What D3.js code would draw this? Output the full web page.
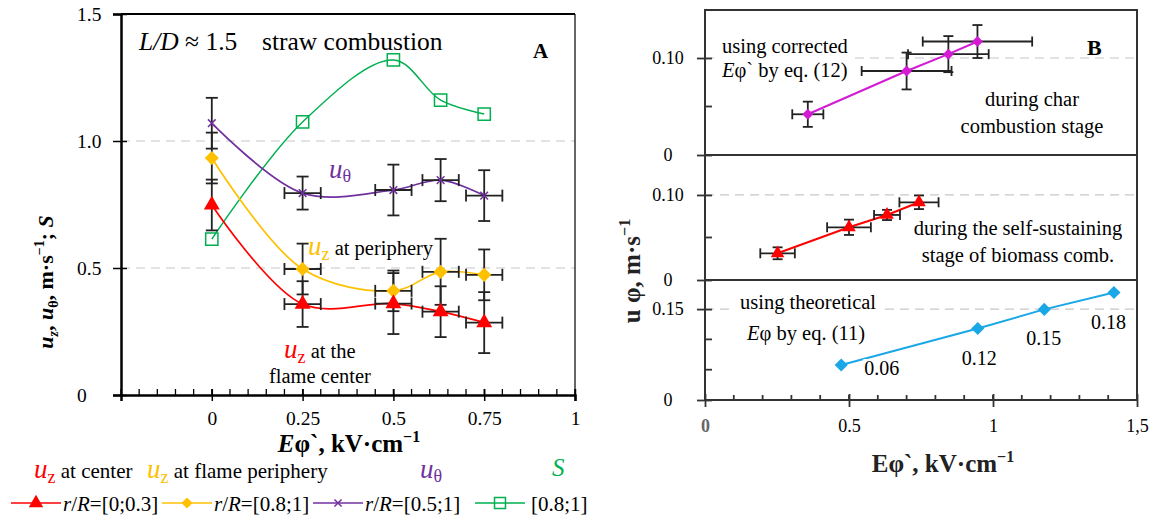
<!DOCTYPE html>
<html>
<head>
<meta charset="utf-8">
<script src="https://cdn.jsdelivr.net/npm/d3@7"></script>
<style>
  body { margin: 0; background: #fff; }
  svg text { font-family: "Liberation Serif", "Times New Roman", "DejaVu Serif", serif !important; }
</style>
</head>
<body>
<svg id="chart" width="1153" height="519"></svg>
<script>
// ---- panel A data (E' in kV/cm) ----
const fieldA = [0, 0.25, 0.5, 0.63, 0.75];
const fieldErrA = [0, 0.05, 0.05, 0.05, 0.05];
const uzCenter = [0.748, 0.358, 0.36, 0.328, 0.285];
const uzCenterErr = [0.1, 0.09, 0.12, 0.1, 0.12];
const uzPeriph = [0.933, 0.496, 0.41, 0.485, 0.473];
const uzPeriphErr = [0.1, 0.1, 0.08, 0.13, 0.1];
const uTheta = [1.07, 0.795, 0.807, 0.846, 0.785];
const uThetaErr = [0.1, 0.065, 0.1, 0.083, 0.1];
const swirlS = [0.614, 1.075, 1.319, 1.161, 1.106];
const ticksXA = [0, 0.25, 0.5, 0.75, 1];
const ticksYA = [0, 0.5, 1.0, 1.5];

// ---- panel B data ----
const charE = [0.357, 0.70, 0.845, 0.946];
const charU = [0.042, 0.0866, 0.104, 0.117];
const charErrE = [0.054, 0.156, 0.14, 0.19];
const charErrU = [0.013, 0.019, 0.0186, 0.017];
const selfE = [0.252, 0.50, 0.632, 0.743];
const selfU = [0.0314, 0.062, 0.0765, 0.0914];
const selfErrE = [0.06, 0.076, 0.045, 0.068];
const selfErrU = [0.007, 0.009, 0.006, 0.008];
const theoE = [0.473, 0.947, 1.178, 1.42];
const theoU = [0.0577, 0.118, 0.1495, 0.1775];
const theoLabels = ['0.06', '0.12', '0.15', '0.18'];
const ticksXB = [0, 0.5, 1, 1.5];
const tickLabelsXB = ['0', '0.5', '1', '1,5'];

const RED = '#ff0000', GOLD = '#ffc000', PURPLE = '#7030a0', GREEN = '#00b050';
const MAGENTA = '#d21bd2', CYAN = '#1aa7e8', ERR = '#222';

const svg = d3.select('#chart');

// ================= PANEL A =================
const xA = d3.scaleLinear().domain([-0.25, 1]).range([121, 575]);
const yA = d3.scaleLinear().domain([0, 1.5]).range([395, 14]);
const gA = svg.append('g');

// grid
gA.selectAll('line.grid').data([0.5, 1.0]).enter().append('line')
  .attr('x1', xA(-0.25)).attr('x2', xA(1))
  .attr('y1', d => yA(d)).attr('y2', d => yA(d))
  .attr('stroke', '#c8c8c8').attr('stroke-width', 1.2).attr('stroke-dasharray', '9,6');

// frame
gA.append('line').attr('x1', xA(1)).attr('x2', xA(1)).attr('y1', yA(1.5)).attr('y2', yA(0))
  .attr('stroke', '#000').attr('stroke-width', 1.2);
gA.append('line').attr('x1', xA(-0.25)).attr('x2', xA(1)).attr('y1', yA(1.5)).attr('y2', yA(1.5))
  .attr('stroke', '#000').attr('stroke-width', 2);

// x axis
const axA = gA.append('g').attr('transform', `translate(0,${yA(0)})`)
  .call(d3.axisBottom(xA).tickValues(ticksXA).tickSize(6).tickPadding(10).tickFormat(d3.format('~g')));
axA.select('.domain').attr('stroke-width', 2.5);
axA.selectAll('.tick line').attr('y1', -6).attr('stroke-width', 1.5);
axA.selectAll('.tick text').attr('font-size', 19.5).attr('fill', '#000');
gA.selectAll('line.minx').data(d3.range(-0.25, 1.001, 0.05)).enter().append('line')
  .attr('x1', d => xA(d)).attr('x2', d => xA(d)).attr('y1', yA(0)).attr('y2', yA(0) - 6)
  .attr('stroke', '#000').attr('stroke-width', 1.3);

// y axis
const ayA = gA.append('g').attr('transform', `translate(${xA(-0.25)},0)`)
  .call(d3.axisLeft(yA).tickValues(ticksYA).tickSize(8).tickFormat(d => d === 0 ? '0' : d3.format('.1f')(d)));
ayA.select('.domain').attr('stroke-width', 2.5);
ayA.selectAll('.tick line').attr('x2', -8).attr('x1', 6).attr('stroke-width', 1.5);
ayA.selectAll('.tick text').attr('font-size', 19.5).attr('fill', '#000')
  .attr('text-anchor', 'start').attr('x', 77 - 121);

const smooth = d3.curveCatmullRom.alpha(0.5);
function series(g, xs, ys, xS, yS, color, width) {
  const pts = xs.map((x, i) => [x, ys[i]]);
  g.append('path').datum(pts)
    .attr('d', d3.line().x(d => xS(d[0])).y(d => yS(d[1])).curve(smooth))
    .attr('fill', 'none').attr('stroke', color).attr('stroke-width', width);
}
function straight(g, xs, ys, xS, yS, color, width) {
  const pts = xs.map((x, i) => [x, ys[i]]);
  g.append('path').datum(pts)
    .attr('d', d3.line().x(d => xS(d[0])).y(d => yS(d[1])))
    .attr('fill', 'none').attr('stroke', color).attr('stroke-width', width);
}
function errorBars(g, xs, ys, ex, ey, xS, yS, cap, sw) {
  xs.forEach((x, i) => {
    const cx = xS(x), cy = yS(ys[i]);
    if (ey[i] > 0) {
      const y1 = yS(ys[i] + ey[i]), y2 = yS(ys[i] - ey[i]);
      g.append('line').attr('x1', cx).attr('x2', cx).attr('y1', y1).attr('y2', y2);
      [y1, y2].forEach(y => g.append('line').attr('x1', cx - cap).attr('x2', cx + cap).attr('y1', y).attr('y2', y));
    }
    if (ex[i] > 0) {
      const x1 = xS(x - ex[i]), x2 = xS(x + ex[i]);
      g.append('line').attr('x1', x1).attr('x2', x2).attr('y1', cy).attr('y2', cy);
      [x1, x2].forEach(xx => g.append('line').attr('x1', xx).attr('x2', xx).attr('y1', cy - cap).attr('y2', cy + cap));
    }
  });
  g.attr('stroke', ERR).attr('stroke-width', sw);
}
function markers(g, xs, ys, xS, yS, type, size, fill, stroke, rot, sw) {
  g.selectAll('path.m').data(xs.map((x, i) => [x, ys[i]])).enter().append('path')
    .attr('d', d3.symbol().type(type).size(size))
    .attr('transform', d => `translate(${xS(d[0])},${yS(d[1])}) rotate(${rot})`)
    .attr('fill', fill).attr('stroke', stroke).attr('stroke-width', sw || 0);
}

series(gA, fieldA, swirlS, xA, yA, GREEN, 1.5);
series(gA, fieldA, uTheta, xA, yA, PURPLE, 1.7);
series(gA, fieldA, uzPeriph, xA, yA, GOLD, 1.7);
series(gA, fieldA, uzCenter, xA, yA, RED, 1.7);

errorBars(gA.append('g'), fieldA, uTheta, fieldErrA, uThetaErr, xA, yA, 6, 1.8);
errorBars(gA.append('g'), fieldA, uzPeriph, fieldErrA, uzPeriphErr, xA, yA, 6, 1.8);
errorBars(gA.append('g'), fieldA, uzCenter, fieldErrA, uzCenterErr, xA, yA, 6, 1.8);

markers(gA.append('g'), fieldA, swirlS, xA, yA, d3.symbolSquare, 150, 'none', GREEN, 0, 1.5);
markers(gA.append('g'), fieldA, uTheta, xA, yA, d3.symbolX, 40, 'none', PURPLE, 0, 1.5);
markers(gA.append('g'), fieldA, uzPeriph, xA, yA, d3.symbolSquare, 100, GOLD, 'none', 45);
markers(gA.append('g'), fieldA, uzCenter, xA, yA, d3.symbolTriangle, 110, RED, 'none', 0);

// annotations A
function rich(g, x, y, parts, anchor) {
  const t = g.append('text').attr('x', x).attr('y', y).attr('text-anchor', anchor || 'start');
  parts.forEach(p => {
    const s = t.append('tspan').text(p.t).attr('font-size', p.fs).attr('fill', p.c || '#000');
    if (p.i) s.attr('font-style', 'italic');
    if (p.b) s.attr('font-weight', 'bold');
    if (p.dy) s.attr('dy', p.dy);
  });
  return t;
}
rich(gA, 139, 50, [{t: 'L/D', fs: 25.5, i: 1}, {t: ' \u2248 1.5', fs: 25.5}]);
rich(gA, 262, 50, [{t: 'straw combustion', fs: 25.5}]);
rich(gA, 533, 58, [{t: 'A', fs: 21, b: 1}]);
svg.append('rect').attr('x', 300).attr('y', 76).attr('width', 22).attr('height', 26).attr('fill', '#fff');
rich(gA, 303, 97, [{t: 'S', fs: 27, i: 1, c: GREEN}]);
rich(gA, 329, 178, [{t: 'u', fs: 27, i: 1, c: PURPLE}, {t: '\u03b8', fs: 18, c: PURPLE, dy: 4}]);
rich(gA, 308, 255, [{t: 'u', fs: 27, i: 1, c: GOLD}, {t: 'z', fs: 18, c: GOLD, dy: 5}, {t: ' at periphery', fs: 20.5, dy: -5}]);
rich(gA, 284, 358, [{t: 'u', fs: 27, i: 1, c: RED}, {t: 'z', fs: 18, c: RED, dy: 5}, {t: ' at the', fs: 20.5, dy: -5}]);
rich(gA, 269, 383, [{t: 'flame center', fs: 20.5}]);

// axis titles A
rich(svg, 0, 0, [
  {t: 'u', fs: 22, i: 1, b: 1}, {t: 'z', fs: 14, i: 1, b: 1, dy: 5}, {t: ', ', fs: 22, b: 1, dy: -5},
  {t: 'u', fs: 22, i: 1, b: 1}, {t: '\u03b8', fs: 14, b: 1, dy: 5}, {t: ', m\u00b7s', fs: 22, b: 1, dy: -5},
  {t: '\u22121', fs: 14, b: 1, dy: -9}, {t: '; ', fs: 22, b: 1, dy: 9}, {t: 'S', fs: 22, i: 1, b: 1}
], 'middle').attr('transform', 'translate(53,282) rotate(-90)');
rich(svg, 349, 452, [{t: 'E', fs: 25, i: 1, b: 1}, {t: '\u03c6`, kV\u00b7cm', fs: 25, b: 1},
  {t: '\u22121', fs: 16, b: 1, dy: -10}], 'middle');

// legend
const leg = svg.append('g');
rich(leg, 34, 478, [{t: 'u', fs: 27, i: 1, c: RED}, {t: 'z', fs: 18, c: RED, dy: 5}, {t: ' at center', fs: 21, dy: -5}]);
rich(leg, 147, 478, [{t: 'u', fs: 27, i: 1, c: GOLD}, {t: 'z', fs: 18, c: GOLD, dy: 5}, {t: ' at flame periphery', fs: 21, dy: -5}]);
rich(leg, 420, 478, [{t: 'u', fs: 27, i: 1, c: PURPLE}, {t: '\u03b8', fs: 18, c: PURPLE, dy: 4}]);
rich(leg, 552, 476, [{t: 'S', fs: 25, i: 1, c: GREEN}]);
const legItems = [
  {x: 11, c: RED, type: d3.symbolTriangle, size: 90, fill: RED, rot: 0, label: '[0;0.3]', r: true},
  {x: 162, c: GOLD, type: d3.symbolSquare, size: 60, fill: GOLD, rot: 45, label: '[0.8;1]', r: true},
  {x: 313, c: PURPLE, type: d3.symbolX, size: 35, fill: 'none', rot: 0, label: '[0.5;1]', r: true},
  {x: 475, c: GREEN, type: d3.symbolSquare, size: 120, fill: 'none', rot: 0, label: '[0.8;1]', r: false}
];
legItems.forEach(it => {
  const ly = 503;
  leg.append('line').attr('x1', it.x).attr('x2', it.x + 50).attr('y1', ly).attr('y2', ly)
    .attr('stroke', it.c).attr('stroke-width', 1.7);
  leg.append('path').attr('d', d3.symbol().type(it.type).size(it.size)())
    .attr('transform', `translate(${it.x + 25},${ly}) rotate(${it.rot})`)
    .attr('fill', it.fill).attr('stroke', it.fill === 'none' ? it.c : 'none').attr('stroke-width', 1.5);
  const parts = it.r ? [{t: 'r', fs: 21, i: 1}, {t: '/', fs: 21}, {t: 'R', fs: 21, i: 1}, {t: '=' + it.label, fs: 21}]
                     : [{t: it.label, fs: 21}];
  rich(leg, it.x + 52 + (it.r ? 0 : 4), 511, parts);
});

// ================= PANEL B =================
const xB = d3.scaleLinear().domain([0, 1.5]).range([705, 1137]);
const subs = [
  {top: 10, bot: 155, max: 0.1495, major: [0, 0.10], minor: [0.05], grid: 0.10, fmt: '.2f'},
  {top: 155, bot: 280, max: 0.147, major: [0, 0.10], minor: [0.05], grid: 0.10, fmt: '.2f'},
  {top: 280, bot: 400, max: 0.198, major: [0, 0.15], minor: [0.05, 0.10], grid: 0.15, fmt: '.2f'}
];
subs.forEach(s => { s.y = d3.scaleLinear().domain([0, s.max]).range([s.bot, s.top]); });
const gB = svg.append('g');
const AX = '#333';

subs.forEach(s => {
  const gs = gB.append('g');
  gs.append('line').attr('x1', xB(0)).attr('x2', xB(1.5)).attr('y1', s.y(s.grid)).attr('y2', s.y(s.grid))
    .attr('stroke', '#c8c8c8').attr('stroke-width', 1.2).attr('stroke-dasharray', '9,6');
  gs.append('rect').attr('x', xB(0)).attr('y', s.top).attr('width', xB(1.5) - xB(0)).attr('height', s.bot - s.top)
    .attr('fill', 'none').attr('stroke', AX).attr('stroke-width', 2);
  const ay = gs.append('g').attr('transform', `translate(${xB(0)},0)`)
    .call(d3.axisLeft(s.y).tickValues(s.major).tickSize(8).tickFormat(d => d === 0 ? '0' : d3.format(s.fmt)(d)));
  ay.select('.domain').remove();
  ay.selectAll('.tick line').attr('x1', 7).attr('stroke', AX).attr('stroke-width', 1.8);
  ay.selectAll('.tick text').attr('font-size', 18).attr('fill', '#000')
    .attr('text-anchor', 'middle').attr('x', 668 - 705);
  gs.selectAll('line.mn').data(s.minor).enter().append('line')
    .attr('x1', xB(0)).attr('x2', xB(0) + 7).attr('y1', d => s.y(d)).attr('y2', d => s.y(d))
    .attr('stroke', AX).attr('stroke-width', 1.8);
});

// x axis B
const s3 = subs[2];
const axB = gB.append('g').attr('transform', `translate(0,${s3.bot})`)
  .call(d3.axisBottom(xB).tickValues(ticksXB).tickSize(7).tickPadding(12).tickFormat((d, i) => tickLabelsXB[i]));
axB.select('.domain').remove();
axB.selectAll('.tick line').attr('y1', -6).attr('stroke', AX).attr('stroke-width', 1.8);
axB.selectAll('.tick text').attr('font-size', 18).attr('fill', '#000');
axB.select('.tick text').attr('font-weight', 'bold').attr('fill', '#666');
gB.selectAll('line.mnx').data(d3.range(0.1, 1.5, 0.1)).enter().append('line')
  .attr('x1', d => xB(d)).attr('x2', d => xB(d)).attr('y1', s3.bot).attr('y2', s3.bot - 5)
  .attr('stroke', AX).attr('stroke-width', 1.8);

// text backgrounds and labels B
function bgText(g, x, y, w, h) {
  g.append('rect').attr('x', x).attr('y', y).attr('width', w).attr('height', h).attr('fill', '#fff');
}
bgText(gB, 718, 30, 137, 56);
bgText(gB, 733, 288, 148, 60);
rich(gB, 722, 53, [{t: 'using corrected', fs: 20.5}]);
rich(gB, 722, 77, [{t: 'E', fs: 20.5, i: 1}, {t: '\u03c6` by eq. (12)', fs: 20.5}]);
rich(gB, 1087, 55, [{t: 'B', fs: 22, b: 1}]);
rich(gB, 1032, 106, [{t: 'during char', fs: 20.5}], 'middle');
rich(gB, 1032, 133, [{t: 'combustion stage', fs: 20.5}], 'middle');
rich(gB, 1018, 235, [{t: 'during the self-sustaining', fs: 20.5}], 'middle');
rich(gB, 1018, 262, [{t: 'stage of biomass comb.', fs: 20.5}], 'middle');
rich(gB, 740, 309, [{t: 'using theoretical', fs: 20.5}]);
rich(gB, 747, 340, [{t: 'E', fs: 20.5, i: 1}, {t: '\u03c6 by eq. (11)', fs: 20.5}]);

// series B
const s1 = subs[0], s2 = subs[1];
straight(gB, charE, charU, xB, s1.y, MAGENTA, 2);
errorBars(gB.append('g'), charE, charU, charErrE, charErrU, xB, s1.y, 5, 1.8);
markers(gB.append('g'), charE, charU, xB, s1.y, d3.symbolSquare, 60, MAGENTA, 'none', 45);

straight(gB, selfE, selfU, xB, s2.y, RED, 2);
errorBars(gB.append('g'), selfE, selfU, selfErrE, selfErrU, xB, s2.y, 5, 1.8);
markers(gB.append('g'), selfE, selfU, xB, s2.y, d3.symbolTriangle, 80, RED, 'none', 0);

straight(gB, theoE, theoU, xB, s3.y, CYAN, 2);
markers(gB.append('g'), theoE, theoU, xB, s3.y, d3.symbolSquare, 85, CYAN, 'none', 45);
const labOff = [[23, 10], [-16, 37], [-18, 36], [-23, 37]];
theoE.forEach((e, i) => {
  const lx = xB(e) + labOff[i][0], ly = s3.y(theoU[i]) + labOff[i][1];
  bgText(gB, lx - 1, ly - 16, 38, 20);
  rich(gB, lx, ly, [{t: theoLabels[i], fs: 20}]);
});

// axis titles B
rich(svg, 943, 472, [{t: 'E\u03c6`, kV\u00b7cm', fs: 25, b: 1, c: '#222'}, {t: '\u22121', fs: 16, b: 1, dy: -10, c: '#222'}], 'middle');
rich(svg, 0, 0, [{t: 'u \u03c6, m\u00b7s', fs: 25, b: 1, c: '#222'}, {t: '\u22121', fs: 16, b: 1, dy: -10, c: '#222'}], 'middle')
  .attr('transform', 'translate(640,271) rotate(-90)');
</script>
</body>
</html>
